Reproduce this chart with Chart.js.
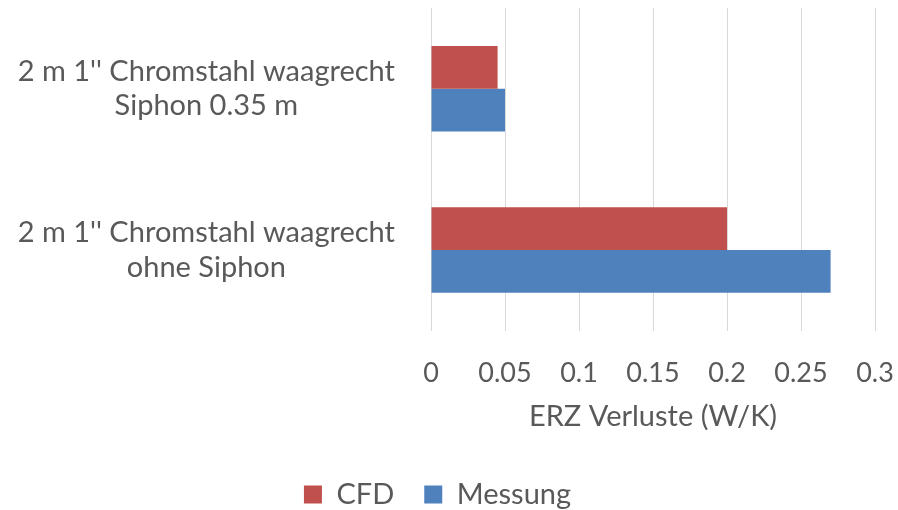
<!DOCTYPE html>
<html>
<head>
<meta charset="utf-8">
<script src="https://cdn.jsdelivr.net/npm/chart.js@4"></script>
<style>
  html, body { margin: 0; padding: 0; background: #fff; }
  #wrap { width: 898px; height: 510px; }
</style>
</head>
<body>
<div id="wrap"><canvas id="erz-chart"></canvas></div>
<script>
    let categories = [
        ["2 m 1'' Chromstahl waagrecht", "Siphon 0.35 m"],
        ["2 m 1'' Chromstahl waagrecht", "ohne Siphon"]
    ];
    let cfd = [0.045, 0.2];
    let messung = [0.05, 0.27];
    let colors = ['#c0504d', '#4f81bd'];
    let textColor = '#595959';
    let fontFamily = 'Lato, "Open Sans", sans-serif';

    new Chart("erz-chart", {
        type: "bar",
        data: {
            labels: categories,
            datasets: [{
                label: "CFD",
                backgroundColor: colors[0],
                data: cfd
            }, {
                label: "Messung",
                backgroundColor: colors[1],
                data: messung
            }]
        },
        options: {
            indexAxis: 'y',
            responsive: true,
            maintainAspectRatio: false,
            animation: false,
            layout: {
                padding: { top: 8, right: 23, left: 0, bottom: -9 }
            },
            datasets: {
                bar: {
                    barPercentage: 1,
                    categoryPercentage: 0.53
                }
            },
            scales: {
                x: {
                    min: 0,
                    max: 0.3,
                    // keep the plot edge fixed, the layout padding handles the last label
                    afterFit: function(scale) {
                        scale.paddingLeft = 0;
                        scale.paddingRight = 0;
                    },
                    ticks: {
                        stepSize: 0.05,
                        color: textColor,
                        padding: 26,
                        font: { family: fontFamily, size: 27 },
                        // Excel shows 0.1 / 0.2 / 0.3, not 0.10
                        callback: function(value) { return String(parseFloat(value.toFixed(2))); }
                    },
                    grid: {
                        color: '#d9d9d9',
                        drawTicks: false
                    },
                    border: { display: false },
                    title: {
                        display: true,
                        text: "ERZ Verluste (W/K)",
                        color: textColor,
                        font: { family: fontFamily, size: 29 },
                        padding: { top: -16, bottom: 16 }
                    }
                },
                y: {
                    afterFit: function(scale) {
                        scale.width = 431;
                        scale.paddingTop = 0;
                        scale.paddingBottom = 0;
                    },
                    ticks: {
                        color: textColor,
                        crossAlign: 'center',
                        padding: 36,
                        font: { family: fontFamily, size: 29 }
                    },
                    grid: { display: false, drawTicks: false },
                    border: { display: false }
                }
            },
            plugins: {
                legend: {
                    position: 'bottom',
                    labels: {
                        color: textColor,
                        boxWidth: 18,
                        boxHeight: 18,
                        padding: 30,
                        font: { family: fontFamily, size: 29 }
                    }
                },
                tooltip: { enabled: false }
            }
        }
    });
</script>
</body>
</html>
